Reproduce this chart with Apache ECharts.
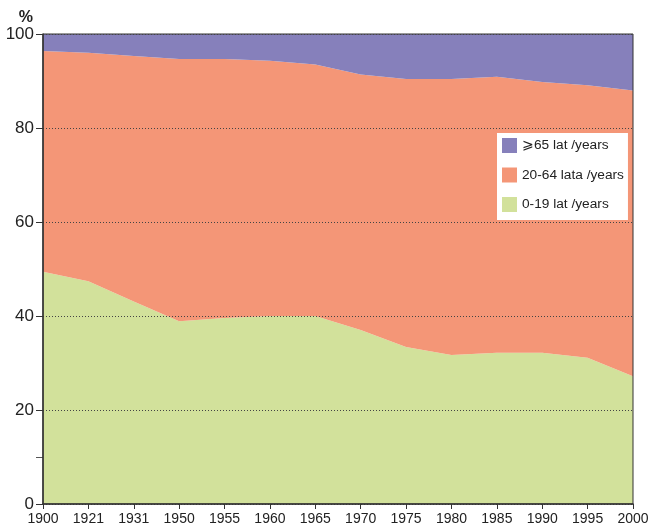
<!DOCTYPE html>
<html>
<head>
<meta charset="utf-8">
<script src="https://cdn.jsdelivr.net/npm/echarts@6/dist/echarts.min.js"></script>
<style>
	html, body { margin: 0; padding: 0; background: #fff; }
	#chart { width: 648px; height: 530px; }
</style>
</head>
<body>
<div id="chart"></div>
<script>
// lata / years
var years = ['1900', '1921', '1931', '1950', '1955', '1960', '1965', '1970', '1975', '1980', '1985', '1990', '1995', '2000'];
// udział grup wieku, %
var age0_19 = [49.4, 47.4, 43.1, 38.9, 39.6, 40.0, 40.0, 37.0, 33.4, 31.7, 32.2, 32.2, 31.1, 27.2];
var age20_64 = [47.0, 48.6, 52.2, 55.8, 55.1, 54.3, 53.5, 54.4, 57.0, 58.7, 58.7, 57.6, 58.0, 60.8];
var age65 = [3.6, 4.0, 4.7, 5.3, 5.3, 5.7, 6.5, 8.6, 9.6, 9.6, 9.1, 10.2, 10.9, 12.0];
var yTicks = [0, 20, 40, 60, 80, 100];

var font = 'Liberation Sans, Arial, sans-serif';
var chart = echarts.init(document.getElementById('chart'));

function areaSeries(name, data, color) {
	return {
		name: name,
		type: 'line',
		stack: 'total',
		data: data,
		symbol: 'none',
		lineStyle: { width: 0 },
		areaStyle: { color: color, opacity: 1 },
		itemStyle: { color: color }
	};
}

chart.setOption({
	animation: false,
	textStyle: { fontFamily: font },
	grid: {
		left: 43,
		right: 15,
		top: 34,
		bottom: 26,
		outerBoundsMode: 'none',
		show: true,
		borderColor: '#333',
		borderWidth: 1,
		z: 5
	},
	legend: {
		orient: 'vertical',
		left: 497,
		top: 133,
		backgroundColor: '#fff',
		padding: [5, 4, 8, 5],
		itemWidth: 15,
		itemHeight: 15,
		itemGap: 14.5,
		icon: 'rect',
		textStyle: { fontSize: 13.7, color: '#222', fontFamily: font },
		data: ['⩾65 lat /years', '20-64 lata /years', '0-19 lat /years']
	},
	xAxis: {
		type: 'category',
		data: years,
		boundaryGap: false,
		axisLine: { lineStyle: { color: '#333', width: 1.5 } },
		axisTick: { show: true, length: 5, alignWithLabel: true, lineStyle: { color: '#333' } },
		axisLabel: { fontSize: 14, color: '#222', margin: 8, interval: 0 },
		splitLine: { show: false },
		z: 10
	},
	yAxis: [
		{
			type: 'value',
			min: 0,
			max: 100,
			interval: 20,
			name: '%',
			nameGap: 4,
			nameTextStyle: { fontSize: 16, fontWeight: 'bold', color: '#222', align: 'right', padding: [0, 10, 0, 0] },
			axisLine: { show: true, lineStyle: { color: '#333', width: 1.5 } },
			axisTick: { show: true, length: 7, lineStyle: { color: '#333' } },
			axisLabel: {
				fontSize: 17,
				color: '#222',
				margin: 9,
				formatter: function (v) { return yTicks.indexOf(v) >= 0 ? String(v) : ''; }
			},
			splitLine: {
				show: true,
				lineStyle: { color: '#444', type: [1, 2], width: 1 }
			},
			z: 10
		},
		{
			type: 'value',
			min: 0,
			max: 100,
			position: 'left',
			axisLine: { show: false },
			axisLabel: { show: false },
			splitLine: { show: false },
			axisTick: { show: true, length: 7, customValues: [10], lineStyle: { color: '#555' } }
		}
	],
	series: [
		areaSeries('0-19 lat /years', age0_19, '#d2e19b'),
		areaSeries('20-64 lata /years', age20_64, '#f49677'),
		areaSeries('⩾65 lat /years', age65, '#8680bb')
	]
});
</script>
</body>
</html>
